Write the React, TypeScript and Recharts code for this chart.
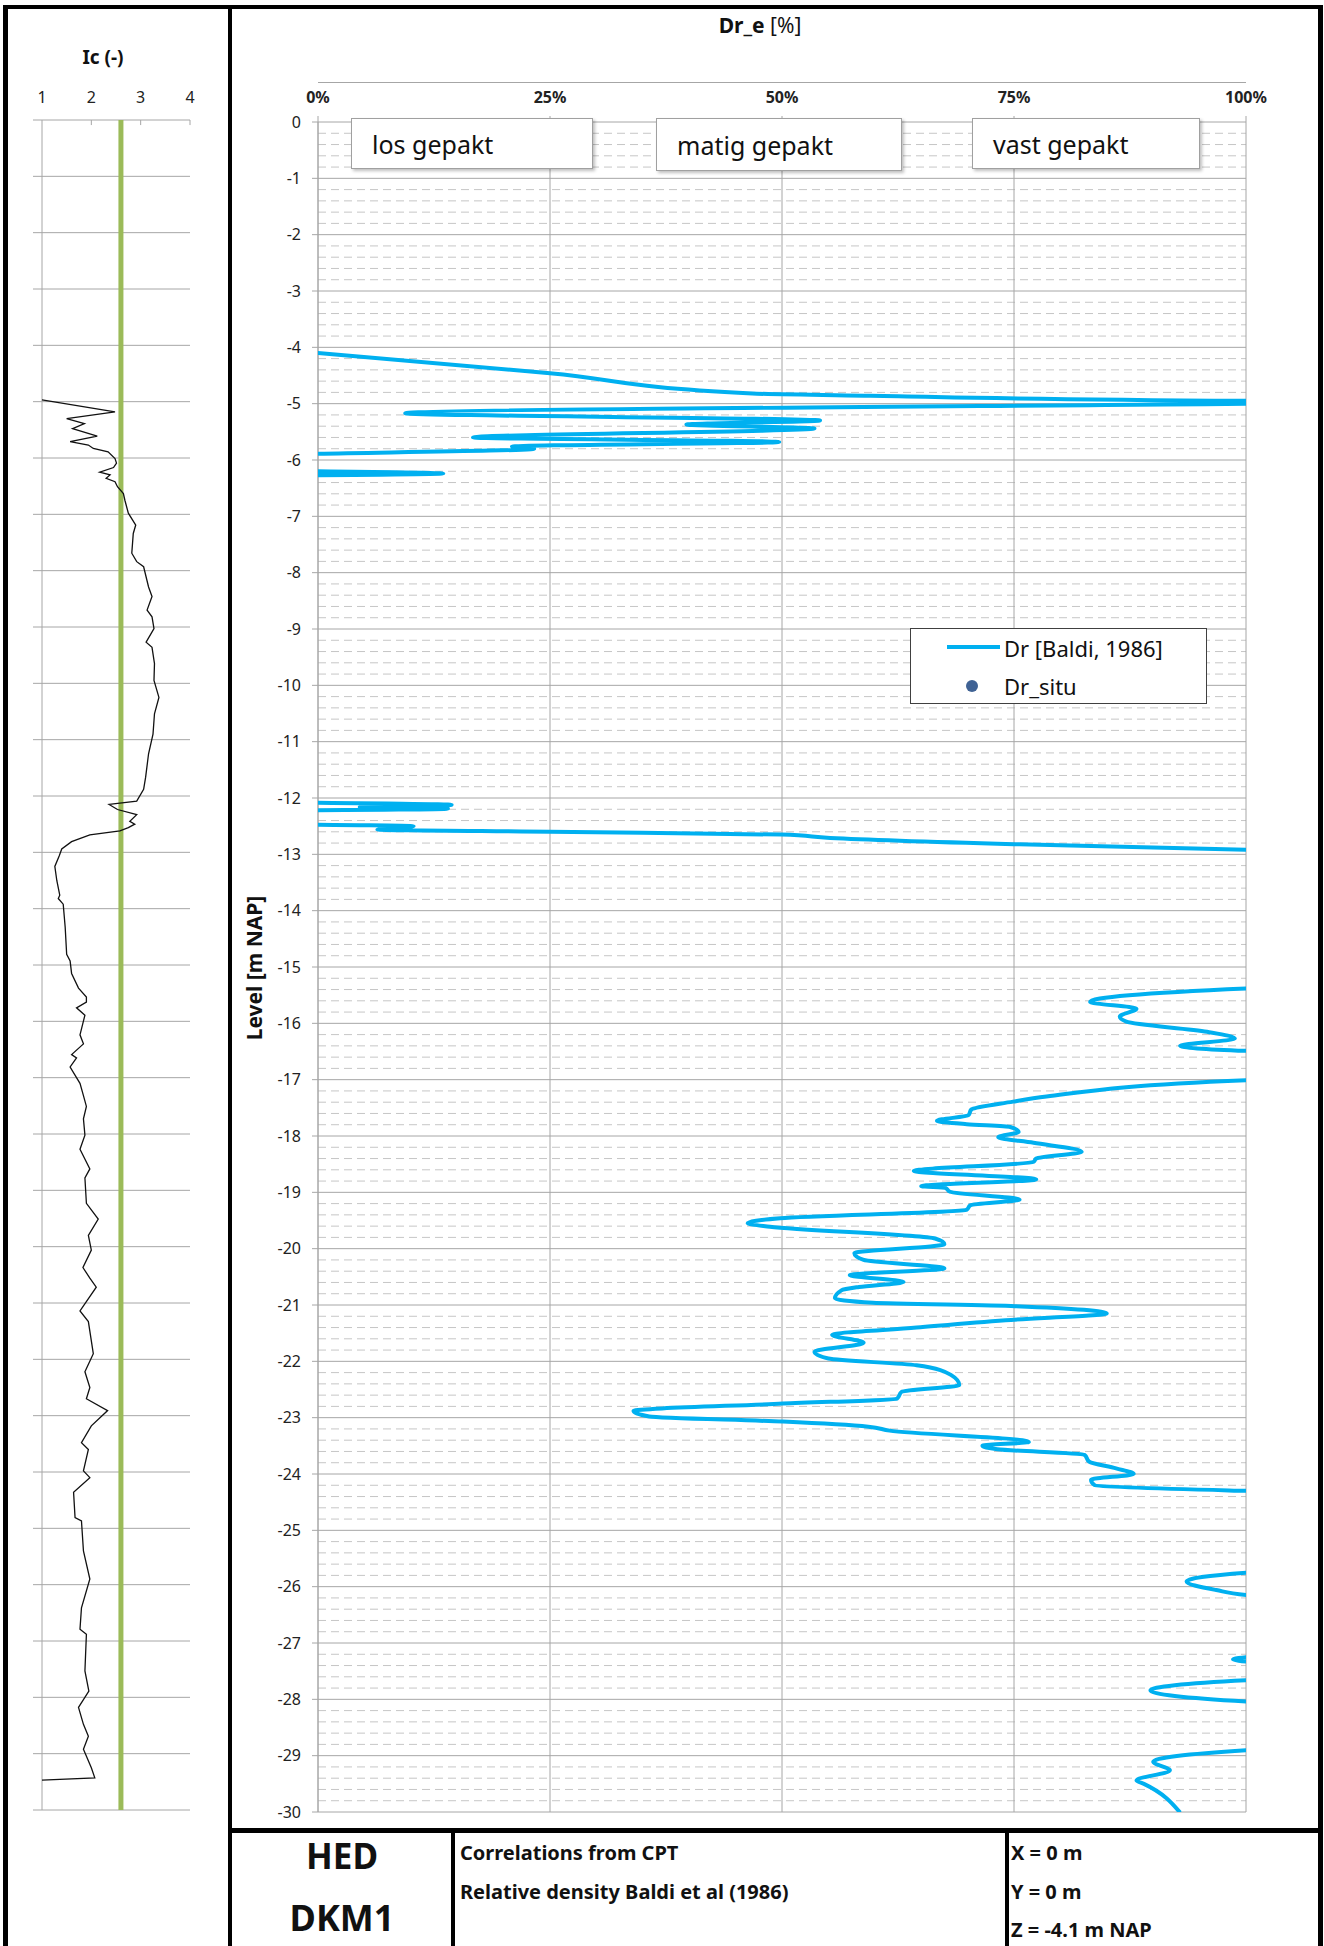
import { CartesianGrid, ReferenceLine, Scatter, ScatterChart, XAxis, YAxis } from 'recharts';

const FONT = "'Noto Sans', 'Open Sans', sans-serif";

// Dr [Baldi, 1986] profile: level in m NAP, relative density in %
const drLevels = [
  -4.1, -4.46, -4.82, -4.86, -4.95, -4.97, -5.0, -5.17, -5.3, -5.37, -5.44, -5.6, -5.68, -5.76, -5.8, -5.89, -5.95,
  -6.15, -6.24, -6.31,
  -12.04, -12.12, -12.16, -12.19, -12.25,
  -12.44, -12.5, -12.56, -12.6, -12.65, -12.71, -12.82, -12.92, -13.0,
  -15.3, -15.38, -15.62, -15.74, -15.88, -15.97, -16.15, -16.27, -16.4, -16.49, -16.6,
  -16.95, -17.01, -17.3, -17.39, -17.53, -17.63, -17.73, -17.79, -17.84, -17.93, -18.02, -18.12, -18.28, -18.4,
  -18.46, -18.62, -18.77, -18.89, -18.92, -18.99, -19.13, -19.23, -19.31, -19.46, -19.55, -19.61, -19.82, -19.92,
  -20.08, -20.2, -20.35, -20.47, -20.59, -20.68, -20.74, -20.88, -20.96, -21.02, -21.15, -21.27, -21.4, -21.53,
  -21.67, -21.83, -21.95, -22.07, -22.24, -22.42, -22.54, -22.66, -22.75, -22.88, -22.98, -23.07, -23.16, -23.23,
  -23.43, -23.5, -23.56, -23.66, -23.78, -23.9, -24.0, -24.1, -24.2, -24.3, -24.4,
  -25.65, -25.75, -25.91, -26.06, -26.15, -26.25,
  -27.2, -27.24, -27.29, -27.34, -27.4,
  -27.6, -27.66, -27.84, -28.04, -28.1,
  -28.85, -28.9, -29.11, -29.26, -29.44, -29.5, -30.01,
];
const drValues = [
  0, 25, 46.8, 59.5, 100, 120, 100, 9.4, 54.1, 39.7, 53.5, 16.7, 49.7, 20.9, 23.3, 0, -20,
  -20, 13.5, -20,
  -20, 14.4, 4.5, 14.0, -20,
  -20, 10.3, 6.4, 25, 49.9, 55.2, 75, 100, 130,
  130, 100, 83.2, 88.2, 86.4, 87.1, 95.8, 98.8, 92.9, 100.2, 130,
  130, 100, 78.5, 74.9, 70.4, 70.1, 66.7, 69.9, 74.6, 75.5, 73.3, 77.1, 82.3, 77.4,
  77.1, 64.2, 77.4, 65.0, 67.6, 68.1, 75.6, 70.3, 69.9, 49.8, 46.3, 48.7, 66.5, 67.5,
  57.8, 58.8, 67.5, 57.3, 63.1, 58.3, 56.4, 55.7, 59.8, 75.1, 85.0, 74.1, 64.5, 55.4,
  58.8, 53.5, 55.0, 64.5, 68.2, 69.1, 62.9, 62.4, 50.1, 34.0, 35.7, 50.1, 59.3, 61.6,
  76.6, 71.6, 73.2, 82.6, 83.1, 86.0, 87.9, 83.3, 83.7, 100.2, 130,
  130, 100.2, 93.6, 96.8, 100.2, 130,
  130, 101, 98.6, 101, 130,
  130, 100.2, 89.7, 100.2, 130,
  130, 100.2, 90.0, 91.8, 88.2, 89.0, 92.9,
];

// Ic profile: level in m NAP, soil behaviour index
const icLevels = [
  -4.97, -5.18, -5.3, -5.39, -5.48, -5.61, -5.71, -5.77, -5.83, -5.89, -6.01, -6.09, -6.17, -6.25, -6.3, -6.36,
  -6.42, -6.51, -6.63, -6.75, -6.98, -7.19, -7.34, -7.69, -7.84, -7.93, -8.29, -8.46, -8.7, -8.82, -9.03, -9.27,
  -9.36, -9.65, -9.95, -10.25, -10.54, -10.9, -11.25, -11.67, -11.88, -12.09, -12.15, -12.24, -12.33, -12.45,
  -12.5, -12.56, -12.62, -12.69, -12.81, -12.94, -13.06, -13.25, -13.5, -13.76, -13.82, -13.92, -14.33, -14.81,
  -14.93, -15.15, -15.41, -15.57, -15.66, -15.76, -15.89, -16.24, -16.4, -16.59, -16.65, -16.81, -17.1, -17.32,
  -17.51, -17.73, -18.02, -18.27, -18.62, -18.78, -19.23, -19.51, -19.8, -20.06, -20.37, -20.56, -20.72, -21.14,
  -21.33, -21.9, -22.22, -22.5, -22.7, -22.91, -23.18, -23.48, -23.6, -23.98, -24.1, -24.36, -24.81, -24.87,
  -25.4, -25.9, -26.41, -26.79, -26.88, -27.53, -27.89, -28.18, -28.48, -28.69, -28.92, -29.25, -29.43, -29.47,
];
const icValues = [
  1.0, 2.48, 1.5, 1.86, 1.62, 2.12, 1.57, 1.94, 2.04, 2.34, 2.48, 2.51, 2.45, 2.17, 2.38, 2.3,
  2.48, 2.53, 2.65, 2.68, 2.75, 2.9, 2.85, 2.82, 2.92, 3.06, 3.16, 3.23, 3.13, 3.23, 3.27, 3.11,
  3.23, 3.28, 3.27, 3.37, 3.28, 3.25, 3.16, 3.1, 3.06, 2.92, 2.36, 2.53, 2.92, 2.78,
  2.88, 2.75, 2.58, 1.97, 1.6, 1.4, 1.35, 1.26, 1.3, 1.36, 1.33, 1.43, 1.47, 1.5,
  1.57, 1.6, 1.74, 1.9, 1.9, 1.7, 1.87, 1.77, 1.84, 1.6, 1.7, 1.57, 1.77, 1.84,
  1.9, 1.84, 1.87, 1.77, 1.97, 1.87, 1.9, 2.14, 1.94, 2.0, 1.83, 1.97, 2.1, 1.77,
  1.94, 2.04, 1.87, 1.97, 1.9, 2.33, 2.0, 1.8, 1.94, 1.84, 1.97, 1.64, 1.67, 1.8,
  1.84, 1.97, 1.8, 1.77, 1.9, 1.87, 1.95, 1.74, 1.84, 1.94, 1.84, 2.0, 2.07, 1.0,
];

const levelTicks = [0, -1, -2, -3, -4, -5, -6, -7, -8, -9, -10, -11, -12, -13, -14, -15, -16, -17, -18, -19, -20, -21, -22, -23, -24, -25, -26, -27, -28, -29, -30];
const drTicks = [0, 25, 50, 75, 100];
const icTicks = [1, 2, 3, 4];
const icLimit = 2.6;

// dashed minor grid every 0.2 m
const minorLevels: number[] = [];
for (let m = 0; m < 30; m++) for (let k = 1; k < 5; k++) minorLevels.push(-(m + k * 0.2));

const drPoints = drLevels.map((level, i) => ({ level, dr: drValues[i] }));
const icPoints = icLevels.map((level, i) => ({ level, ic: icValues[i] }));

const GRID = '#a6a6a6';
const noDot = () => <g />;
const noTick = () => <g />;

function Txt({ x, y, size, bold, anchor = 'middle', children, rotate }: any) {
  const tx = anchor === 'middle' ? '-50%' : anchor === 'end' ? '-100%' : '0';
  return (
    <div
      style={{
        position: 'absolute', left: x, top: y, fontSize: size, fontWeight: bold ? 700 : 400, lineHeight: 1,
        whiteSpace: 'nowrap', color: '#111', transform: `translate(${tx}, -50%)${rotate ? ` rotate(${rotate}deg)` : ''}`,
        transformOrigin: 'center',
      }}
    >
      {children}
    </div>
  );
}

const bar = (left: number, top: number, width: number, height: number) => (
  <div style={{ position: 'absolute', left, top, width, height, background: '#000' }} />
);

function LabelBox({ left, width, height, text }: { left: number; width: number; height: number; text: string }) {
  return (
    <div
      style={{
        position: 'absolute', left, top: 118, width, height, boxSizing: 'border-box', background: '#fff',
        border: '1.5px solid #a0a0a0', boxShadow: '2px 2px 3px rgba(0,0,0,0.25)', fontSize: 25,
        display: 'flex', alignItems: 'center', paddingLeft: 20, color: '#111',
      }}
    >
      {text}
    </div>
  );
}

export default function App() {
  return (
    <div style={{ position: 'absolute', left: 0, top: 0, width: 1324, height: 1946, background: '#fff', fontFamily: FONT, overflow: 'hidden' }}>
      <div style={{ position: 'absolute', left: 0, top: 0 }}>
        <ScatterChart width={230} height={1830} margin={{ top: 80, right: 40, bottom: 20, left: 33 }}>
          <CartesianGrid vertical={false} horizontalValues={levelTicks} stroke={GRID} />
          <XAxis type="number" dataKey="ic" orientation="top" domain={[1, 4]} ticks={icTicks} interval={0} height={40}
            axisLine={false} tickLine={false} tickSize={0} tickMargin={17}
            tick={{ fill: '#222', fontSize: 16, fontFamily: FONT }} />
          <YAxis type="number" dataKey="level" domain={[-30, 0]} ticks={levelTicks} interval={0} width={9}
            tickSize={9} tick={noTick} stroke={GRID} />
          <Scatter data={icPoints} line={{ stroke: '#111', strokeWidth: 1.3 }} shape={noDot} isAnimationActive={false} />
          {icTicks.slice(1).map((t) => (
            <ReferenceLine key={t} segment={[{ x: t, y: 0 }, { x: t, y: -0.09 }]} stroke={GRID} />
          ))}
          <ReferenceLine x={icLimit} stroke="#9bbb59" strokeWidth={5} />
        </ScatterChart>
      </div>

      <div style={{ position: 'absolute', left: 230, top: 0 }}>
        <ScatterChart width={1090} height={1830} margin={{ top: 80, right: 74, bottom: 18, left: 28 }}>
          <CartesianGrid horizontalValues={minorLevels} vertical={false} stroke="#c6c6c6" strokeDasharray="8 5" />
          <CartesianGrid stroke={GRID} />
          <XAxis type="number" dataKey="dr" orientation="top" domain={[0, 100]} ticks={drTicks} interval={0}
            allowDataOverflow height={42} axisLine={false} stroke={GRID} tickSize={6} tickMargin={13}
            tickFormatter={(v) => `${v}%`} tick={{ fill: '#222', fontSize: 16, fontWeight: 700, fontFamily: FONT }} />
          <YAxis type="number" dataKey="level" domain={[-30, 0]} ticks={levelTicks} interval={0} allowDataOverflow
            width={60} stroke={GRID} tickSize={6} tickMargin={11}
            tick={{ fill: '#222', fontSize: 16, fontFamily: FONT }} />
          <Scatter data={drPoints} line={{ stroke: '#00b0f0', strokeWidth: 4, strokeLinejoin: 'round' }}
            lineJointType="monotoneY" shape={noDot} isAnimationActive={false} />
        </ScatterChart>
      </div>

      {/* top axis rule above the % labels */}
      <div style={{ position: 'absolute', left: 318, top: 82, width: 928, height: 1, background: GRID }} />

      <LabelBox left={351} width={242} height={51} text="los gepakt" />
      <LabelBox left={656} width={246} height={53} text="matig gepakt" />
      <LabelBox left={972} width={228} height={51} text="vast gepakt" />

      {/* legend */}
      <div style={{ position: 'absolute', left: 910, top: 628, width: 297, height: 76, boxSizing: 'border-box', border: '1.5px solid #404040', background: '#fff' }} />
      <div style={{ position: 'absolute', left: 947, top: 645, width: 53, height: 4, background: '#00b0f0' }} />
      <Txt x={1004} y={648} size={22} anchor="start">Dr [Baldi, 1986]</Txt>
      <div style={{ position: 'absolute', left: 966, top: 680, width: 12, height: 12, borderRadius: 6, background: '#3f6294' }} />
      <Txt x={1004} y={686} size={22} anchor="start">Dr_situ</Txt>

      <Txt x={103} y={57} size={19} bold>Ic (-)</Txt>
      <Txt x={760} y={25} size={21}><b>Dr_e</b> [%]</Txt>
      <Txt x={254} y={968} size={21} bold rotate={-90}>Level [m NAP]</Txt>

      {/* frame */}
      {bar(3, 5, 1320, 4)}
      {bar(3, 5, 5, 1941)}
      {bar(228, 5, 4, 1941)}
      {bar(1318, 5, 5, 1941)}
      {bar(228, 1828, 1095, 5)}
      {bar(451, 1828, 4, 118)}
      {bar(1005, 1828, 4, 118)}

      {/* title block */}
      <Txt x={342} y={1855} size={35} bold>HED</Txt>
      <Txt x={342} y={1918} size={36} bold>DKM1</Txt>
      <Txt x={460} y={1853} size={20} bold anchor="start">Correlations from CPT</Txt>
      <Txt x={460} y={1892} size={20} bold anchor="start">Relative density Baldi et al (1986)</Txt>
      <Txt x={1011} y={1853} size={20} bold anchor="start">X = 0 m</Txt>
      <Txt x={1011} y={1892} size={20} bold anchor="start">Y = 0 m</Txt>
      <Txt x={1011} y={1930} size={20} bold anchor="start">Z = -4.1 m NAP</Txt>
    </div>
  );
}
